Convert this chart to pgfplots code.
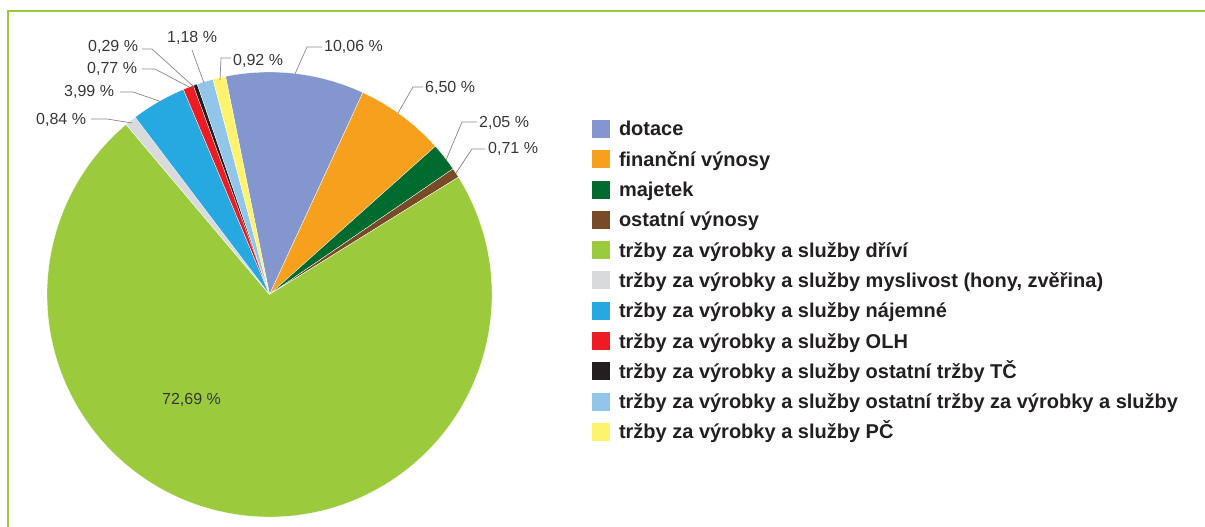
\documentclass[border=0pt]{standalone}
\usepackage{pgfplots}
\pgfplotsset{compat=1.18}
\usepackage{fontspec}
\setmainfont{Liberation Sans}
\definecolor{cDot}{RGB}{131,151,206}
\definecolor{cFin}{RGB}{247,160,30}
\definecolor{cMaj}{RGB}{0,107,46}
\definecolor{cOst}{RGB}{119,75,38}
\definecolor{cDri}{RGB}{155,202,60}
\definecolor{cMys}{RGB}{217,218,219}
\definecolor{cNaj}{RGB}{38,168,224}
\definecolor{cOlh}{RGB}{237,28,36}
\definecolor{cTc}{RGB}{35,31,32}
\definecolor{cOtr}{RGB}{145,197,234}
\definecolor{cPc}{RGB}{255,243,109}
\definecolor{frameGreen}{RGB}{155,202,60}
\definecolor{labText}{RGB}{55,55,55}
\definecolor{legText}{RGB}{35,31,32}
\definecolor{leader}{RGB}{135,135,135}
% slice: cumulative percent before, percent, colour
\newcommand{\slice}[3]{%
  \fill[#3, draw=white, line width=0.3pt] (axis cs:269.5,232.5) -- ++({101.4-3.6*(#1)}:222.5pt)
    arc[start angle={101.4-3.6*(#1)}, delta angle={-3.6*(#2)}, radius=222.5pt] -- cycle;}
\begin{document}
\begin{tikzpicture}
\begin{axis}[
  at={(0,0)}, anchor=south west,
  x=1pt, y=1pt, xmin=0, xmax=1205, ymin=0, ymax=527,
  hide axis, scale only axis, clip=false,
  legend style={at={(axis description cs:0.49129,0.77230)}, anchor=north west,
    draw=none, fill=none, inner sep=0pt, outer sep=0pt,
    font=\fontsize{20}{24}\selectfont\bfseries, text=legText,
    row sep=9.3pt,
    cells={anchor=base west},
    nodes={inner sep=0pt, text height=16pt, text depth=5pt, anchor=base west},
    /tikz/every odd column/.append style={column sep=9pt}},
  legend image code/.code={\fill[#1, draw=none] (0pt,-2pt) rectangle (18pt,16pt);},
]
% frame
\draw[frameGreen, line width=2pt] (axis cs:8,0) -- (axis cs:8,516) -- (axis cs:1205,516);
% slices (percent values)
\slice{0}{10.06}{cDot}
\slice{10.06}{6.50}{cFin}
\slice{16.56}{2.05}{cMaj}
\slice{18.61}{0.71}{cOst}
\slice{19.32}{72.69}{cDri}
\slice{92.01}{0.84}{cMys}
\slice{92.85}{3.99}{cNaj}
\slice{96.84}{0.77}{cOlh}
\slice{97.61}{0.29}{cTc}
\slice{97.90}{1.18}{cOtr}
\slice{99.08}{0.92}{cPc}
% legend
\addlegendimage{fill=cDot,draw=none}\addlegendentry{dotace}
\addlegendimage{fill=cFin,draw=none}\addlegendentry{finanční výnosy}
\addlegendimage{fill=cMaj,draw=none}\addlegendentry{majetek}
\addlegendimage{fill=cOst,draw=none}\addlegendentry{ostatní výnosy}
\addlegendimage{fill=cDri,draw=none}\addlegendentry{tržby za výrobky a služby dříví}
\addlegendimage{fill=cMys,draw=none}\addlegendentry{tržby za výrobky a služby myslivost (hony, zvěřina)}
\addlegendimage{fill=cNaj,draw=none}\addlegendentry{tržby za výrobky a služby nájemné}
\addlegendimage{fill=cOlh,draw=none}\addlegendentry{tržby za výrobky a služby OLH}
\addlegendimage{fill=cTc,draw=none}\addlegendentry{tržby za výrobky a služby ostatní tržby TČ}
\addlegendimage{fill=cOtr,draw=none}\addlegendentry{tržby za výrobky a služby ostatní tržby za výrobky a služby}
\addlegendimage{fill=cPc,draw=none}\addlegendentry{tržby za výrobky a služby PČ}
% leader lines
\draw[leader, line width=0.7pt] (axis cs:295,453) -- (axis cs:307,480) -- (axis cs:322,480);
\draw[leader, line width=0.7pt] (axis cs:220,447) -- (axis cs:221,469) -- (axis cs:231,469);
\draw[leader, line width=0.7pt] (axis cs:204,444) -- (axis cs:192,477);
\draw[leader, line width=0.7pt] (axis cs:142,478) -- (axis cs:152,478) -- (axis cs:194,440);
\draw[leader, line width=0.7pt] (axis cs:142,458) -- (axis cs:155,458) -- (axis cs:189,440);
\draw[leader, line width=0.7pt] (axis cs:120,435) -- (axis cs:133,435) -- (axis cs:162,425);
\draw[leader, line width=0.7pt] (axis cs:91,408) -- (axis cs:107,408) -- (axis cs:132,404);
\draw[leader, line width=0.7pt] (axis cs:398,414) -- (axis cs:413,440) -- (axis cs:423,440);
\draw[leader, line width=0.7pt] (axis cs:446,367) -- (axis cs:462,405) -- (axis cs:477,405);
\draw[leader, line width=0.7pt] (axis cs:456,354) -- (axis cs:472,378) -- (axis cs:485,378);
% labels
\begin{scope}[every node/.style={anchor=base west, inner sep=0pt, text=labText, font=\fontsize{16}{19}\selectfont}]
\node at (axis cs:324,475) {10,06 \%};
\node at (axis cs:233,461) {0,92 \%};
\node at (axis cs:167,484) {1,18 \%};
\node at (axis cs:88,475) {0,29 \%};
\node at (axis cs:87,453) {0,77 \%};
\node at (axis cs:64,430) {3,99 \%};
\node at (axis cs:36,402) {0,84 \%};
\node at (axis cs:425,434) {6,50 \%};
\node at (axis cs:479,399) {2,05 \%};
\node at (axis cs:488,373) {0,71 \%};
\node at (axis cs:162,122) {72,69 \%};
\end{scope}
\end{axis}
\pgfresetboundingbox
\path (0,0) rectangle (1205pt,527pt);
\end{tikzpicture}
\end{document}
